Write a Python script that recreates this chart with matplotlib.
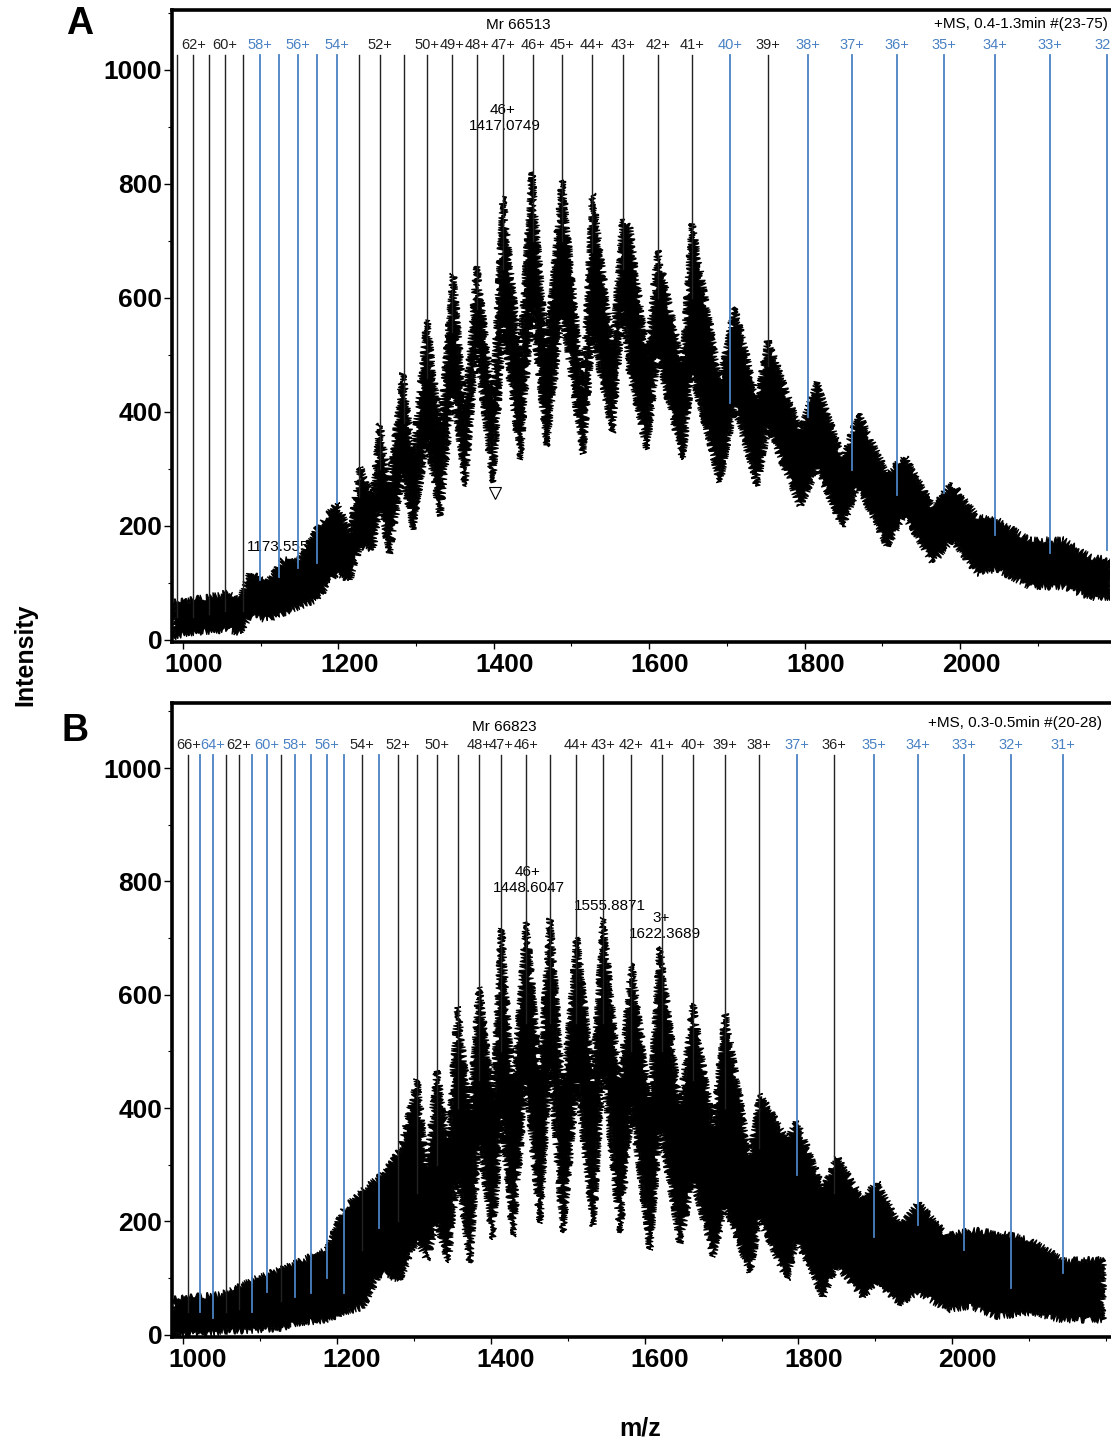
import numpy as np
import matplotlib
matplotlib.use("Agg")
import matplotlib.pyplot as plt
from matplotlib.ticker import MultipleLocator
import matplotlib.transforms as mtrans

plt.rcParams['font.family'] = ['Liberation Sans', 'DejaVu Sans']

BLUE = '#4a82c4'

# ---- panel A (Mr 66513) ----
a_mz = [987, 1013, 1056, 1073, 1086, 1108, 1129, 1150, 1172, 1198, 1215, 1228, 1245,
        1253, 1266, 1283, 1296, 1314, 1331, 1348, 1363, 1378, 1399, 1412, 1434, 1449,
        1468, 1488, 1515, 1527, 1553, 1566, 1575, 1597, 1611, 1643, 1655, 1691, 1710,
        1739, 1753, 1794, 1816, 1849, 1869, 1906, 1929, 1965, 1990, 2022, 2048, 2090,
        2133, 2167, 2195]
a_top = [65, 70, 82, 70, 117, 100, 140, 140, 193, 240, 188, 304, 251,
         380, 275, 468, 321, 561, 368, 643, 392, 655, 421, 778, 491, 821,
         503, 807, 440, 784, 515, 737, 725, 497, 684, 480, 730, 456, 584,
         421, 526, 368, 451, 316, 398, 292, 321, 234, 275, 216, 210, 175,
         175, 146, 140]
a_bot = [5, 12, 18, 12, 41, 35, 47, 58, 70, 117, 105, 164, 158,
         234, 152, 292, 193, 351, 216, 439, 269, 515, 275, 550, 316, 584,
         339, 573, 325, 538, 363, 585, 468, 333, 497, 316, 468, 275, 409,
         269, 374, 234, 298, 198, 269, 164, 216, 135, 175, 117, 123, 93,
         93, 75, 70]

a_charge = [63, 62, 61, 60, 59, 58, 57, 56, 55, 54, 53, 52, 51, 50, 49, 48, 47, 46,
            45, 44, 43, 42, 41, 40, 39, 38, 37, 36, 35, 34, 33, 32]
a_line_mz = [992.7, 1013.3, 1033.8, 1054.4, 1076.8, 1099.1, 1123.6, 1147.6, 1172.1,
             1197.8, 1226.5, 1253.9, 1284.0, 1313.6, 1345.8, 1378.8, 1412.2, 1450.1,
             1487.4, 1526.8, 1566.7, 1611.3, 1655.5, 1704.0, 1752.5, 1804.8, 1860.6,
             1918.5, 1979.8, 2045.0, 2115.8, 2188.8]
a_line_end = [40, 40, 45, 50, 50, 105, 110, 126, 135, 240, 250, 300, 380, 460, 540,
              580, 650, 700, 700, 680, 650, 600, 600, 416, 480, 391, 298, 254, 258,
              184, 153, 158]
a_blue = [58, 57, 56, 55, 54, 40, 38, 37, 36, 35, 34, 33, 32]
a_labeled = [62, 60, 58, 56, 54, 52, 50, 49, 48, 47, 46, 45, 44, 43, 42, 41, 40, 39,
             38, 37, 36, 35, 34, 33, 32]

# ---- panel B (Mr 66823) ----
b_mz = [987, 1022, 1057, 1091, 1126, 1156, 1187, 1208, 1234, 1256, 1282, 1304, 1317,
        1330, 1345, 1357, 1373, 1385, 1403, 1414, 1429, 1446, 1464, 1477, 1494, 1512,
        1533, 1546, 1568, 1583, 1607, 1620, 1646, 1663, 1689, 1705, 1737, 1750, 1785,
        1798, 1832, 1850, 1884, 1902, 1932, 1956, 1993, 2023, 2058, 2101, 2144, 2189,
        2196]
b_top = [62, 68, 74, 97, 115, 132, 150, 220, 256, 279, 326, 450, 297,
         467, 344, 579, 391, 614, 409, 717, 426, 729, 467, 735, 426, 702,
         444, 737, 438, 656, 414, 685, 403, 585, 367, 567, 314, 426, 344,
         379, 256, 314, 238, 270, 191, 233, 174, 185, 180, 168, 132, 132,
         132]
b_bot = [0, 0, 6, 8, 12, 21, 26, 39, 49, 109, 97, 168, 132,
         197, 127, 285, 127, 344, 168, 385, 173, 450, 197, 473, 180, 450,
         191, 467, 180, 402, 150, 367, 162, 273, 138, 226, 109, 203, 97,
         168, 67, 121, 67, 91, 56, 74, 44, 50, 32, 39, 26, 26,
         26]

b_charge = [66, 65, 64, 63, 62, 61, 60, 59, 58, 57, 56, 55, 54, 53, 52, 51, 50, 49,
            48, 47, 46, 45, 44, 43, 42, 41, 40, 39, 38, 37, 36, 35, 34, 33, 32, 31]
b_line_mz = [1006.9, 1022.1, 1038.6, 1055.9, 1072.8, 1089.3, 1108.8, 1127.0, 1145.6,
             1166.4, 1186.9, 1209.4, 1232.4, 1254.9, 1279.2, 1303.9, 1329.9, 1357.2,
             1385.3, 1413.5, 1445.6, 1477.2, 1511.1, 1546.5, 1582.2, 1622.5, 1662.8,
             1703.9, 1749.0, 1798.0, 1846.6, 1898.6, 1954.9, 2014.7, 2076.7, 2143.9]
b_line_end = [40, 41, 30, 40, 45, 41, 76, 60, 67, 74, 100, 74, 150, 189, 200, 250,
              300, 400, 450, 500, 550, 550, 550, 550, 500, 500, 450, 400, 330, 282,
              250, 173, 194, 150, 83, 109]
b_blue = [65, 64, 61, 60, 58, 57, 56, 55, 53, 37, 35, 34, 33, 32, 31]
b_labeled = [66, 64, 62, 60, 58, 56, 54, 52, 50, 48, 47, 46, 44, 43, 42, 41, 40, 39,
             38, 37, 36, 35, 34, 33, 32, 31]


def draw_panel(ax, mz, top, bot, charge, line_mz, line_end, blue, labeled,
               xlim, ylim, line_top, label_y, label_shift):
    # spectrum band: upper edge left->right, lower edge back right->left
    xs = list(mz) + list(mz)[::-1]
    ys = list(top) + list(bot)[::-1]
    band = ax.fill(xs, ys, facecolor='black', edgecolor='black', linewidth=0.8,
                   zorder=3)[0]
    band.set_sketch_params(scale=3.5, length=1.0, randomness=3)

    for z, x, y0 in zip(charge, line_mz, line_end):
        c = BLUE if z in blue else '#222222'
        ax.plot([x, x], [y0, line_top], color=c,
                lw=1.3 if z in blue else 1.0, zorder=4)
        if z in labeled:
            ax.text(x, label_y, f'{z}+', color=c, fontsize=10.5,
                    ha='center', va='center', zorder=5, clip_on=False)

    ax.set_xlim(*xlim)
    ax.set_ylim(*ylim)

    ax.set_xticks(range(1000, 2001, 200))
    ax.xaxis.set_minor_locator(MultipleLocator(100))
    ax.yaxis.set_major_locator(MultipleLocator(200))
    ax.yaxis.set_minor_locator(MultipleLocator(100))
    ax.tick_params(axis='both', which='major', labelsize=19, direction='out',
                   width=1.0, length=5)
    ax.tick_params(axis='both', which='minor', direction='out', width=0.8, length=3)
    ax.tick_params(axis='y', which='major', length=6, pad=1)
    ax.tick_params(axis='x', which='major', pad=3)
    for lab in ax.get_xticklabels() + ax.get_yticklabels():
        lab.set_fontweight('bold')
    shift = mtrans.ScaledTranslation(label_shift / 100, 0, ax.figure.dpi_scale_trans)
    for lab in ax.get_xticklabels():
        lab.set_transform(lab.get_transform() + shift)

    ax.spines['right'].set_visible(False)
    for s in ('left', 'top', 'bottom'):
        ax.spines[s].set_linewidth(2.6)


fig = plt.figure(figsize=(11.11, 14.41), dpi=100)

axA = fig.add_axes([172 / 1111, 1 - 642 / 1441, 938 / 1111, 632 / 1441])
draw_panel(axA, a_mz, a_top, a_bot, a_charge, a_line_mz, a_line_end, a_blue,
           a_labeled, (986, 2193), (-4, 1105), 1026, 1044, 11)
axA.text(1431, 1078, 'Mr 66513', fontsize=11, ha='center', va='center')
axA.text(2190, 1080, '+MS, 0.4-1.3min #(23-75)', fontsize=11, ha='right', va='center')
axA.text(1412, 930, '46+', fontsize=11, ha='center', va='center', zorder=3.5)
axA.text(1414, 901, '1417.0749', fontsize=11, ha='center', va='center', zorder=3.5)
axA.text(1128, 163, '1173.5554', fontsize=11, ha='center', va='center', zorder=2)
axA.plot([1401.5], [258], marker='v', ms=9, mfc='white', mec='black', mew=0.8,
         zorder=5)

axB = fig.add_axes([172 / 1111, 1 - 1337 / 1441, 938 / 1111, 634 / 1441])
draw_panel(axB, b_mz, b_top, b_bot, b_charge, b_line_mz, b_line_end, b_blue,
           b_labeled, (985.7, 2205), (-4, 1115), 1023, 1040, 15)
axB.text(1418, 1073, 'Mr 66823', fontsize=11, ha='center', va='center')
axB.text(2195, 1080, '+MS, 0.3-0.5min #(20-28)', fontsize=11, ha='right', va='center')
axB.text(1448, 817, '46+', fontsize=11, ha='center', va='center', zorder=3.5)
axB.text(1450, 788, '1448.6047', fontsize=11, ha='center', va='center', zorder=3.5)
axB.text(1555, 756, '1555.8871', fontsize=11, ha='center', va='center', zorder=3.5)
axB.text(1622, 736, '3+', fontsize=11, ha='center', va='center', zorder=3.5)
axB.text(1627, 707, '1622.3689', fontsize=11, ha='center', va='center', zorder=3.5)

fig.text(25 / 1111, 1 - 655 / 1441, 'Intensity', rotation=90, fontsize=18,
         fontweight='bold', ha='center', va='center')
fig.text(640 / 1111, 1 - 1428 / 1441, 'm/z', fontsize=18, fontweight='bold',
         ha='center', va='center')
fig.text(80 / 1111, 1 - 24 / 1441, 'A', fontsize=27, fontweight='bold',
         ha='center', va='center')
fig.text(75 / 1111, 1 - 731 / 1441, 'B', fontsize=27, fontweight='bold',
         ha='center', va='center')

fig.savefig('out.png', dpi=100)
